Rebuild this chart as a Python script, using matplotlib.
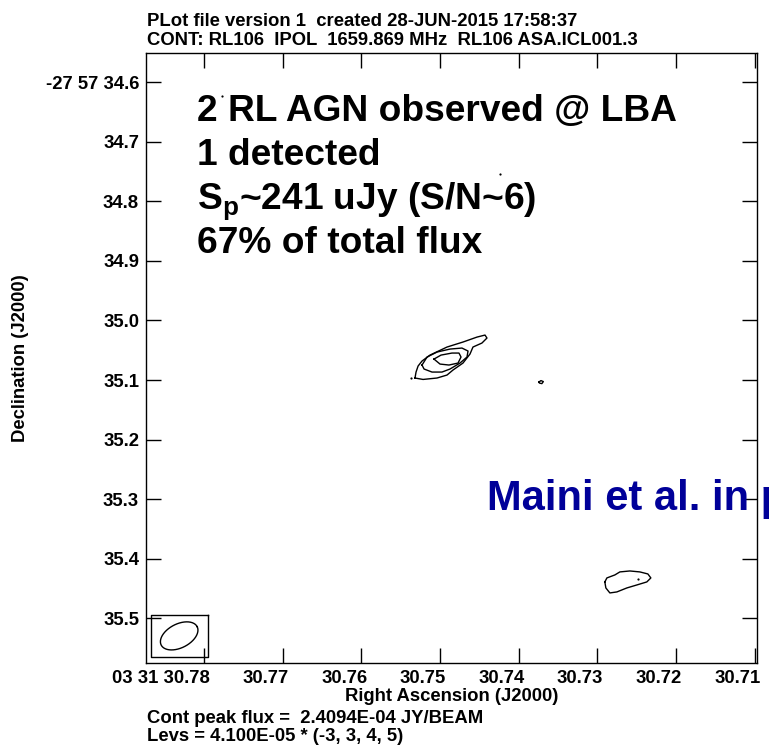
"""
AIPS-style contour plot of RL106 (LBA 1659.869 MHz, IPOL)
"""

import numpy as np
import matplotlib
matplotlib.use("Agg")
import matplotlib.pyplot as plt
from matplotlib import transforms

# --- header / footer text ---
title_lines = ["PLot file version 1  created 28-JUN-2015 17:58:37",
               "CONT: RL106  IPOL  1659.869 MHz  RL106 ASA.ICL001.3"]
footer_lines = ["Cont peak flux =  2.4094E-04 JY/BEAM",
                "Levs = 4.100E-05 * (-3, 3, 4, 5)"]
note_lines = ["2 RL AGN observed @ LBA",
              "1 detected",
              r"S$_\mathregular{p}$~241 uJy (S/N~6)",
              "67% of total flux"]
credit = "Maini et al. in prep."

# --- axes (RA seconds of 03 31, Dec arcsec of -27 57) ---
ra_ticks = [30.78, 30.77, 30.76, 30.75, 30.74, 30.73, 30.72, 30.71]
ra_labels = ["03 31 30.78", "30.77", "30.76", "30.75", "30.74", "30.73", "30.72", "30.71"]
dec_ticks = [34.6, 34.7, 34.8, 34.9, 35.0, 35.1, 35.2, 35.3, 35.4, 35.5]
dec_labels = ["-27 57 34.6", "34.7", "34.8", "34.9", "35.0", "35.1", "35.2", "35.3", "35.4", "35.5"]
ra_lim = (30.7874, 30.7097)
dec_lim = (35.575, 34.551)

# --- contours (RA s, Dec arcsec) ---
src1_lev3_ra = [30.75319, 30.75306, 30.75280, 30.75230, 30.75128, 30.74912, 30.74709, 30.74531,
                30.74429, 30.74404, 30.74468, 30.74582, 30.74620, 30.74709, 30.74836, 30.74912,
                30.75039, 30.75217, 30.75319]
src1_lev3_dec = [35.0966, 35.0866, 35.0765, 35.0681, 35.0581, 35.0446, 35.0362, 35.0279,
                 35.0245, 35.0295, 35.0379, 35.0446, 35.0564, 35.0715, 35.0832, 35.0916,
                 35.0966, 35.0990, 35.0966]
src1_lev4_ra = [30.75230, 30.75166, 30.75039, 30.74874, 30.74722, 30.74645, 30.74658, 30.74747,
                30.74874, 30.74976, 30.75103, 30.75204, 30.75230]
src1_lev4_dec = [35.0748, 35.0614, 35.0530, 35.0480, 35.0463, 35.0513, 35.0614, 35.0715,
                 35.0815, 35.0866, 35.0866, 35.0815, 35.0748]
src1_lev5_ra = [30.75078, 30.74988, 30.74849, 30.74760, 30.74734, 30.74772, 30.74887, 30.75001,
                30.75078]
src1_lev5_dec = [35.0648, 35.0581, 35.0547, 35.0547, 35.0614, 35.0715, 35.0748, 35.0732,
                 35.0648]
blob_ra = [30.73743, 30.73718, 30.73687, 30.73706, 30.73737, 30.73743]
blob_dec = [35.1034, 35.1009, 35.1026, 35.1060, 35.1051, 35.1034]
src2_lev3_ra = [30.72905, 30.72879, 30.72778, 30.72714, 30.72587, 30.72460, 30.72358, 30.72320,
                30.72371, 30.72498, 30.72625, 30.72752, 30.72841, 30.72892, 30.72905]
src2_lev3_dec = [35.4389, 35.4322, 35.4272, 35.4221, 35.4205, 35.4221, 35.4255, 35.4322,
                 35.4389, 35.4440, 35.4490, 35.4557, 35.4574, 35.4490, 35.4389]
# single-pixel noise dots
dot_ra = [30.7537, 30.77771, 30.76081, 30.74239, 30.72485]
dot_dec = [35.0966, 34.6235, 34.7292, 34.7544, 35.4339]

# --- restoring beam ---
beam_ra, beam_dec = 30.78318, 35.5295
beam_maj, beam_min, beam_pa = 0.068, 0.040, -63.0   # arcsec, arcsec, deg
beam_box_half = (0.00362, 0.0352)                   # RA s, Dec arcsec
ra_sec_arcsec = 15.0 * np.cos(np.radians(27.96))


def beam_outline():
    t = np.linspace(0, 2 * np.pi, 200)
    a, b = beam_maj / 2, beam_min / 2
    pa = np.radians(beam_pa)
    u, v = a * np.cos(t), b * np.sin(t)
    east = u * np.sin(pa) + v * np.cos(pa)
    north = u * np.cos(pa) - v * np.sin(pa)
    return beam_ra + east / ra_sec_arcsec, beam_dec - north


def main():
    plt.rcParams['font.family'] = ['Liberation Sans', 'DejaVu Sans']
    plt.rcParams['font.weight'] = 'bold'
    plt.rcParams['axes.labelweight'] = 'bold'
    small = 13.3

    fig = plt.figure(figsize=(7.69, 7.5), dpi=100)
    ax = fig.add_axes([146 / 769, 1 - 663 / 750, 611 / 769, 610 / 750])

    lw = 1.0
    for xs, ys in [(src1_lev3_ra, src1_lev3_dec), (src1_lev4_ra, src1_lev4_dec),
                   (src1_lev5_ra, src1_lev5_dec), (blob_ra, blob_dec),
                   (src2_lev3_ra, src2_lev3_dec)]:
        ax.plot(xs, ys, color="black", lw=lw)
    ax.plot(dot_ra, dot_dec, "o", color="black", ms=1.6, mew=0)

    bx, by = beam_outline()
    ax.plot(bx, by, color="black", lw=lw)
    hx, hy = beam_box_half
    ax.plot([beam_ra - hx, beam_ra + hx, beam_ra + hx, beam_ra - hx, beam_ra - hx],
            [beam_dec - hy, beam_dec - hy, beam_dec + hy, beam_dec + hy, beam_dec - hy],
            color="black", lw=lw)

    ax.set_xlim(*ra_lim)
    ax.set_ylim(*dec_lim)
    ax.set_xticks(ra_ticks)
    ax.set_xticklabels(ra_labels, fontsize=small, ha="right")
    ax.set_yticks(dec_ticks)
    ax.set_yticklabels(dec_labels, fontsize=small)
    ax.tick_params(direction="in", length=11, width=1, top=True, right=True, pad=5)
    shift = transforms.ScaledTranslation(6 / 100, 0, fig.dpi_scale_trans)
    for lab in ax.get_xticklabels():
        lab.set_transform(lab.get_transform() + shift)
    for sp in ax.spines.values():
        sp.set_linewidth(1.0)

    ax.set_xlabel("Right Ascension (J2000)", fontsize=small, labelpad=1)
    ax.set_ylabel("Declination (J2000)", fontsize=small, labelpad=12)

    for i, line in enumerate(title_lines):
        fig.text(147 / 769, 1 - (26 + 19 * i) / 750, line, fontsize=small)
    for i, line in enumerate(footer_lines):
        fig.text(147 / 769, 1 - (723 + 18 * i) / 750, line, fontsize=small)
    for i, line in enumerate(note_lines):
        fig.text(197 / 769, 1 - (121 + 44 * i) / 750, line, fontsize=26.7)
    fig.text(487 / 769, 1 - 510 / 750, credit, fontsize=30, color="#000099")

    fig.savefig("out.png", dpi=100)


if __name__ == "__main__":
    main()
